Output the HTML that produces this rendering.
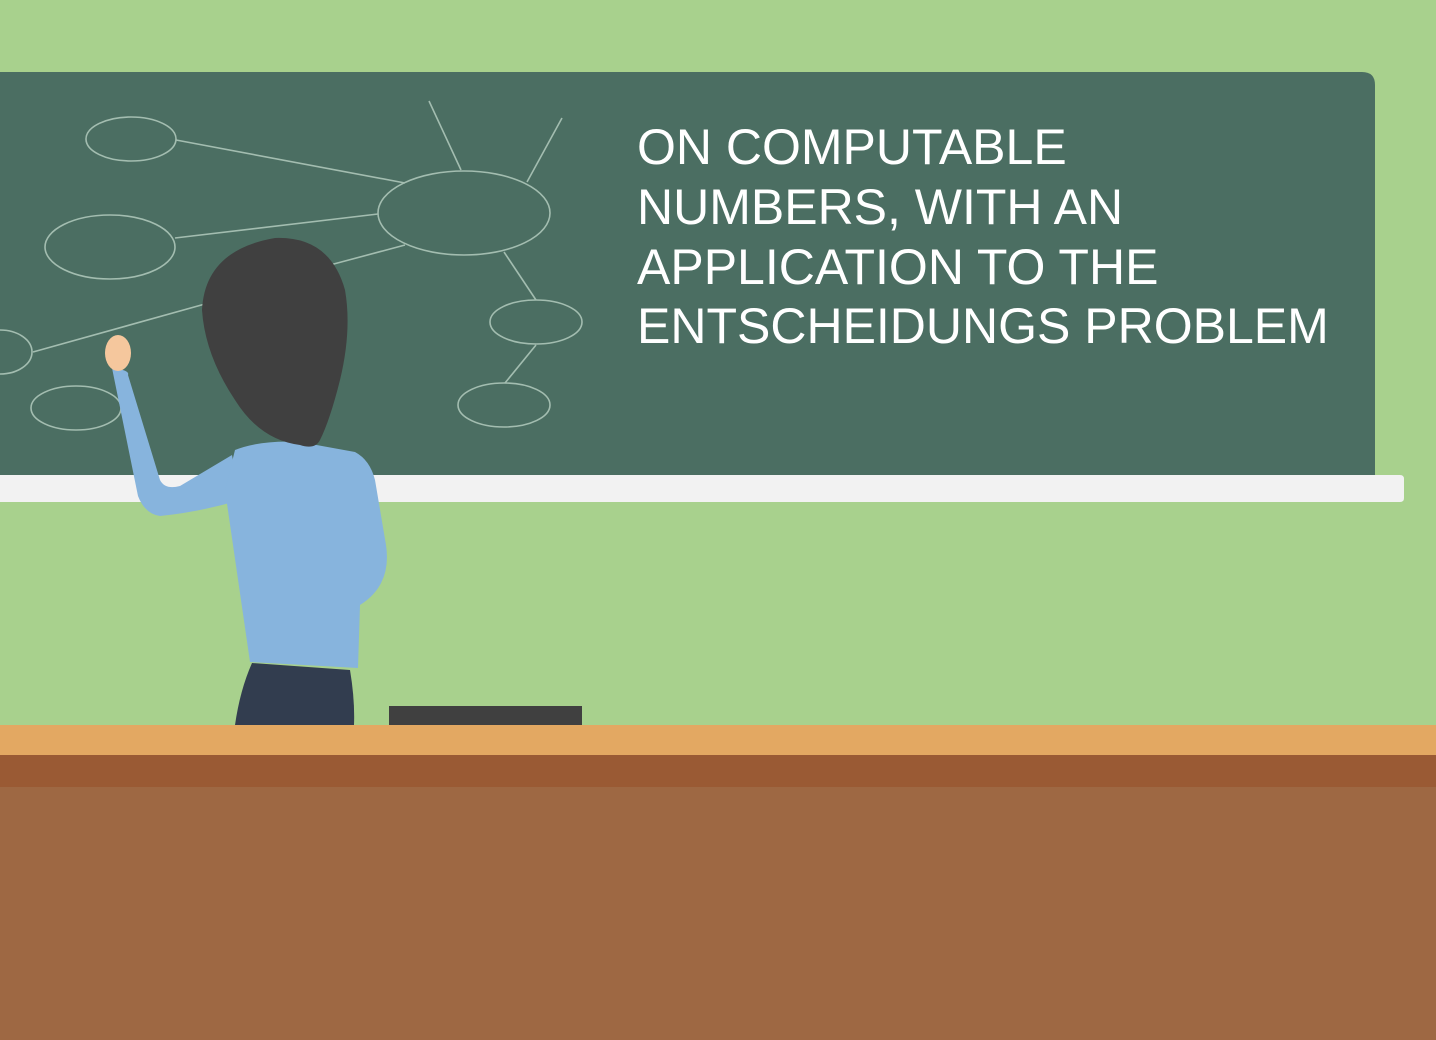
<!DOCTYPE html>
<html><head><meta charset="utf-8"><style>html,body{margin:0;padding:0;width:1436px;height:1040px;overflow:hidden;background:#a8d18d}</style></head>
<body>
<svg width="1436" height="1040" viewBox="0 0 1436 1040" xmlns="http://www.w3.org/2000/svg">
<rect x="0" y="0" width="1436" height="1040" fill="#a8d18d"/>
<path d="M0 72 H1362 Q1375 72 1375 85 V476 H0 Z" fill="#4b6e62"/>
<g fill="none" stroke="#a3bdb0" stroke-width="1.6">
<ellipse cx="131" cy="139" rx="45" ry="22"/>
<ellipse cx="110" cy="247" rx="65" ry="32"/>
<ellipse cx="464" cy="213" rx="86" ry="42"/>
<ellipse cx="536" cy="322" rx="46" ry="22"/>
<ellipse cx="504" cy="405" rx="46" ry="22"/>
<ellipse cx="76" cy="408" rx="45" ry="22"/>
<ellipse cx="0" cy="352" rx="32" ry="22"/>
<line x1="176" y1="140" x2="405" y2="183"/>
<line x1="175" y1="238" x2="378" y2="214"/>
<line x1="330" y1="265" x2="405" y2="245"/>
<line x1="33" y1="352" x2="205" y2="304"/>
<line x1="429" y1="101" x2="461" y2="170"/>
<line x1="562" y1="118" x2="527" y2="182"/>
<line x1="504" y1="252" x2="536" y2="300"/>
<line x1="536" y1="345" x2="505" y2="383"/>
</g>
<text font-family="Liberation Sans, sans-serif" font-size="50" fill="#ffffff">
<tspan x="637" y="164">ON COMPUTABLE</tspan>
<tspan x="637" y="224">NUMBERS, WITH AN</tspan>
<tspan x="637" y="284">APPLICATION TO THE</tspan>
<tspan x="637" y="343">ENTSCHEIDUNGS PROBLEM</tspan>
</text>
<path d="M0 475 H1400 Q1404 475 1404 479 V498 Q1404 502 1400 502 H0 Z" fill="#f2f2f2"/>
<g>
<path d="M112 368 Q130 370 128 375 L160 480 Q165 490 180 486 L232 455 L240 500 Q200 512 160 516 Q145 514 138 496 Z" fill="#87b4dd"/>
<ellipse cx="118" cy="353" rx="13" ry="18" fill="#f5c79d"/>
<path d="M235 450 Q260 440 300 442 L355 452 Q370 460 375 480 L386 545 Q392 585 360 605 L358 668 L250 662 L225 490 Z" fill="#87b4dd"/>
<path d="M252 663 L350 670 Q355 700 354 725 H235 Q240 690 252 663 Z" fill="#323d4f"/>
<path d="M275 238 Q330 236 345 290 Q352 330 340 380 Q330 420 320 440 Q315 450 300 445 Q260 440 235 400 Q205 355 202 310 Q205 250 275 238 Z" fill="#404040"/>
</g>
<rect x="389" y="706" width="193" height="20" fill="#404040"/>
<rect x="0" y="725" width="1436" height="30" fill="#e3a862"/>
<rect x="0" y="755" width="1436" height="32" fill="#9a5a34"/>
<rect x="0" y="787" width="1436" height="253" fill="#9e6843"/>
</svg>
</body></html>
